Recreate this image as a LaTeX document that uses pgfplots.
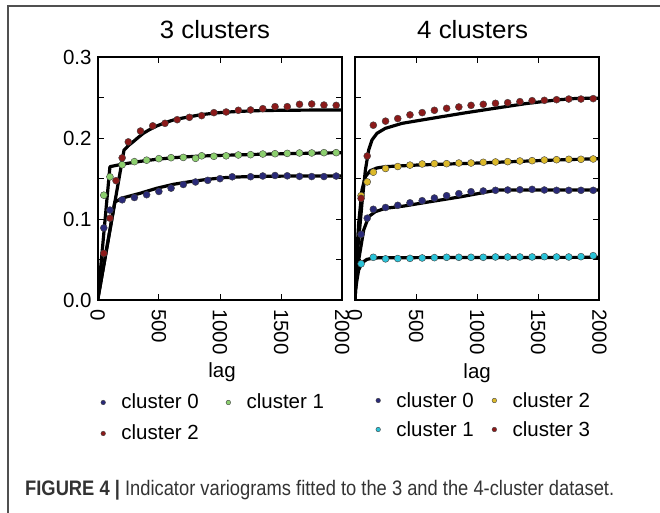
\documentclass[border=0pt]{standalone}
\usepackage{graphicx}
\usepackage{pgfplots}
\pgfplotsset{compat=1.18}
\usepackage{fontspec}
\setmainfont{Liberation Sans}
\definecolor{cred}{HTML}{8B1A1A}
\definecolor{cgreen}{HTML}{8CCF6E}
\definecolor{cnavy}{HTML}{2A2A78}
\definecolor{cgold}{HTML}{DCB92A}
\definecolor{ccyan}{HTML}{2AC3D8}
\definecolor{edge}{HTML}{404040}
\definecolor{framegray}{HTML}{505050}
\definecolor{capgray}{HTML}{333333}
\pgfplotsset{
  myaxis/.style={
    scale only axis, height=243pt,
    xmin=0, xmax=2000, ymin=0, ymax=0.3,
    xtick={0,500,1000,1500,2000},
    xticklabels={0,500,1000,1500,2000},
    ytick={0,0.1,0.2,0.3},
    minor ytick={0.05,0.15,0.25},
    tick align=inside,
    major tick length=6pt, minor tick length=6pt,
    every tick/.style={black, line width=0.9pt},
    every minor tick/.style={black, line width=0.9pt},
    axis line style={line width=1.8pt},
    /pgf/number format/assume math mode=true,
    tick label style={font=\fontsize{20.5}{20.5}\selectfont},
    xticklabel style={rotate=-90, anchor=west, inner sep=0pt},
    xticklabel shift=9pt,
    yticklabel style={anchor=east, inner sep=0pt},
    yticklabel shift=6pt,
    title style={font=\fontsize{25}{25}\selectfont, at={(axis description cs:0.5,1)}, anchor=base, yshift=12pt},
    xlabel={lag},
    xlabel style={font=\fontsize{20.5}{20.5}\selectfont, at={(axis description cs:0.5,0)}, anchor=base, yshift=-78pt},
    legend cell align=left,
    legend image code/.code={\path (-2.3pt,0pt) (18pt,0pt); \draw[##1, mark size=2.3pt] plot coordinates {(0pt,1pt)};},
    legend style={draw=none, fill=none, inner sep=0pt, outer sep=0pt,
      font=\fontsize{20.5}{20.5}\selectfont,
      nodes={inner sep=0pt, text height=15pt, text depth=4pt}},
  },
  dots/.style={only marks, mark=*, mark size=3.5pt, draw=edge, line width=0.4pt, fill=#1},
  fit/.style={black, line width=3.2pt, line join=round, forget plot},
}
\begin{document}
\begin{tikzpicture}
\useasboundingbox (0pt,0pt) rectangle (660pt,513pt);
\draw[line width=1.2pt, framegray] (8pt,0pt) -- (8pt,507pt) -- (660pt,507pt);

\begin{axis}[myaxis, width=244.6pt, at={(97.7pt,213pt)}, anchor=south west,
  title={\resizebox{110pt}{\height}{3 clusters}}, title style={xshift=-5pt},
  yticklabels={0.0,0.1,0.2,0.3},
  xlabel style={xshift=2pt},
  legend columns=2,
  legend style={at={(axis description cs:0.0123,-0.3868)}, anchor=north west, row sep=12pt,
    /tikz/every even column/.append style={column sep=27pt}},
]
\addplot[fit] coordinates {(0,0) (215,0.185) (250,0.1905) (291,0.1955) (330,0.2005) (373,0.2058) (420,0.2100) (482,0.2148) (550,0.2188) (618,0.2222) (690,0.2245) (755,0.2263) (820,0.2281) (891,0.2296) (960,0.2308) (1027,0.2317) (1150,0.2328) (1300,0.2337) (1450,0.2341) (1572,0.2343) (1800,0.2345) (2000,0.2346)};
\addplot[fit] coordinates {(0,0) (100,0.1646) (209,0.1679) (350,0.1712) (482,0.1737) (620,0.1757) (755,0.1770) (900,0.1780) (1027,0.1786) (1300,0.1798) (1572,0.1807) (2000,0.1819)};
\addplot[fit] coordinates {(0,0) (140,0.1210) (209,0.1262) (346,0.1317) (482,0.1379) (618,0.1428) (755,0.1461) (890,0.1488) (1027,0.1510) (1200,0.1522) (1400,0.1528) (1700,0.1531) (2000,0.1532)};
\addplot[dots=cnavy] coordinates {(50,0.0890) (100,0.1110) (200,0.1237) (300,0.1265) (400,0.1300) (500,0.1340) (600,0.1381) (700,0.1426) (800,0.1457) (900,0.1477) (1000,0.1498) (1100,0.1521) (1250,0.1522) (1350,0.1531) (1450,0.1537) (1550,0.1533) (1650,0.1526) (1750,0.1524) (1850,0.1524) (1950,0.1530)};
\addlegendentry{cluster 0}
\addplot[dots=cgreen] coordinates {(50,0.1294) (100,0.1521) (200,0.1670) (300,0.1708) (400,0.1726) (500,0.1745) (600,0.1757) (700,0.1760) (800,0.1749) (850,0.1780) (950,0.1774) (1050,0.1780) (1150,0.1790) (1250,0.1794) (1350,0.1802) (1450,0.1806) (1550,0.1810) (1650,0.1815) (1750,0.1815) (1850,0.1819) (1950,0.1819)};
\addlegendentry{cluster 1}
\addplot[dots=cred] coordinates {(50,0.0576) (100,0.1010) (150,0.1473) (200,0.1755) (250,0.1952) (350,0.2086) (450,0.2150) (550,0.2181) (650,0.2226) (750,0.2255) (850,0.2276) (950,0.2313) (1050,0.2321) (1150,0.2342) (1250,0.2346) (1350,0.2362) (1450,0.2387) (1550,0.2387) (1650,0.2416) (1750,0.2420) (1850,0.2407) (1950,0.2403)};
\addlegendentry{cluster 2}
\end{axis}

\begin{axis}[myaxis, width=244.3pt, at={(355pt,213pt)}, anchor=south west,
  title={\resizebox{111pt}{\height}{4 clusters}}, title style={xshift=-4.5pt},
  yticklabels={},
  legend columns=2,
  legend style={at={(axis description cs:0.0847,-0.3786)}, anchor=north west, row sep=10pt,
    /tikz/every even column/.append style={column sep=18pt}},
]
\addplot[fit] coordinates {(0,0) (8,0.035) (18,0.058) (30,0.0741) (57,0.1193) (85,0.1605) (112,0.1852) (139,0.1975) (180,0.2058) (248,0.2119) (385,0.2181) (630,0.2243) (900,0.2310) (1150,0.2368) (1400,0.2425) (1650,0.2470) (1800,0.2487) (1900,0.2490) (2000,0.2490)};
\addplot[fit] coordinates {(0,0) (10,0.045) (30,0.0947) (57,0.1358) (85,0.1523) (126,0.1597) (180,0.1630) (248,0.1646) (521,0.1667) (1010,0.1691) (1556,0.1724) (2000,0.1745)};
\addplot[fit] coordinates {(0,0) (10,0.025) (30,0.0494) (71,0.0864) (112,0.1029) (166,0.1090) (248,0.1132) (400,0.1160) (600,0.1210) (873,0.1276) (1119,0.1345) (1180,0.1358) (2000,0.1358)};
\addplot[fit] coordinates {(0,0) (5,0.013) (16,0.0247) (30,0.037) (57,0.046) (98,0.0502) (139,0.0514) (200,0.0522) (2000,0.0527)};
\addplot[dots=cnavy] coordinates {(50,0.0811) (100,0.1010) (150,0.1120) (250,0.1142) (350,0.1169) (450,0.1200) (550,0.1226) (650,0.1259) (750,0.1288) (850,0.1313) (950,0.1337) (1050,0.1346) (1150,0.1354) (1250,0.1358) (1350,0.1362) (1450,0.1366) (1550,0.1358) (1650,0.1354) (1750,0.1354) (1850,0.1354) (1950,0.1354)};
\addlegendentry{cluster 0}
\addplot[dots=cgold] coordinates {(50,0.1288) (100,0.1458) (150,0.1578) (250,0.1624) (350,0.1648) (450,0.1665) (550,0.1679) (650,0.1683) (750,0.1683) (850,0.1691) (950,0.1691) (1050,0.1700) (1150,0.1704) (1250,0.1708) (1350,0.1716) (1450,0.1720) (1550,0.1728) (1650,0.1732) (1750,0.1737) (1850,0.1737) (1950,0.1741)};
\addlegendentry{cluster 2}
\addplot[dots=ccyan] coordinates {(50,0.0447) (150,0.0527) (250,0.0508) (350,0.0512) (450,0.0514) (550,0.0519) (650,0.0523) (750,0.0527) (850,0.0527) (950,0.0527) (1050,0.0527) (1150,0.0531) (1250,0.0531) (1350,0.0531) (1450,0.0531) (1550,0.0535) (1650,0.0531) (1750,0.0531) (1850,0.0535) (1950,0.0547)};
\addlegendentry{cluster 1}
\addplot[dots=cred] coordinates {(50,0.1255) (100,0.1778) (150,0.2158) (250,0.2208) (350,0.2240) (450,0.2286) (550,0.2313) (650,0.2342) (750,0.2366) (850,0.2383) (950,0.2403) (1050,0.2416) (1150,0.2428) (1250,0.2436) (1350,0.2449) (1450,0.2461) (1550,0.2465) (1650,0.2473) (1750,0.2481) (1850,0.2481) (1950,0.2486)};
\addlegendentry{cluster 3}
\end{axis}

\node[anchor=base west, inner sep=0pt, text=capgray] at (25pt,17pt)
  {\resizebox{589pt}{\height}{\fontsize{21}{21}\selectfont\textbf{FIGURE 4 |} Indicator variograms fitted to the 3 and the 4-cluster dataset.}};
\end{tikzpicture}
\end{document}
